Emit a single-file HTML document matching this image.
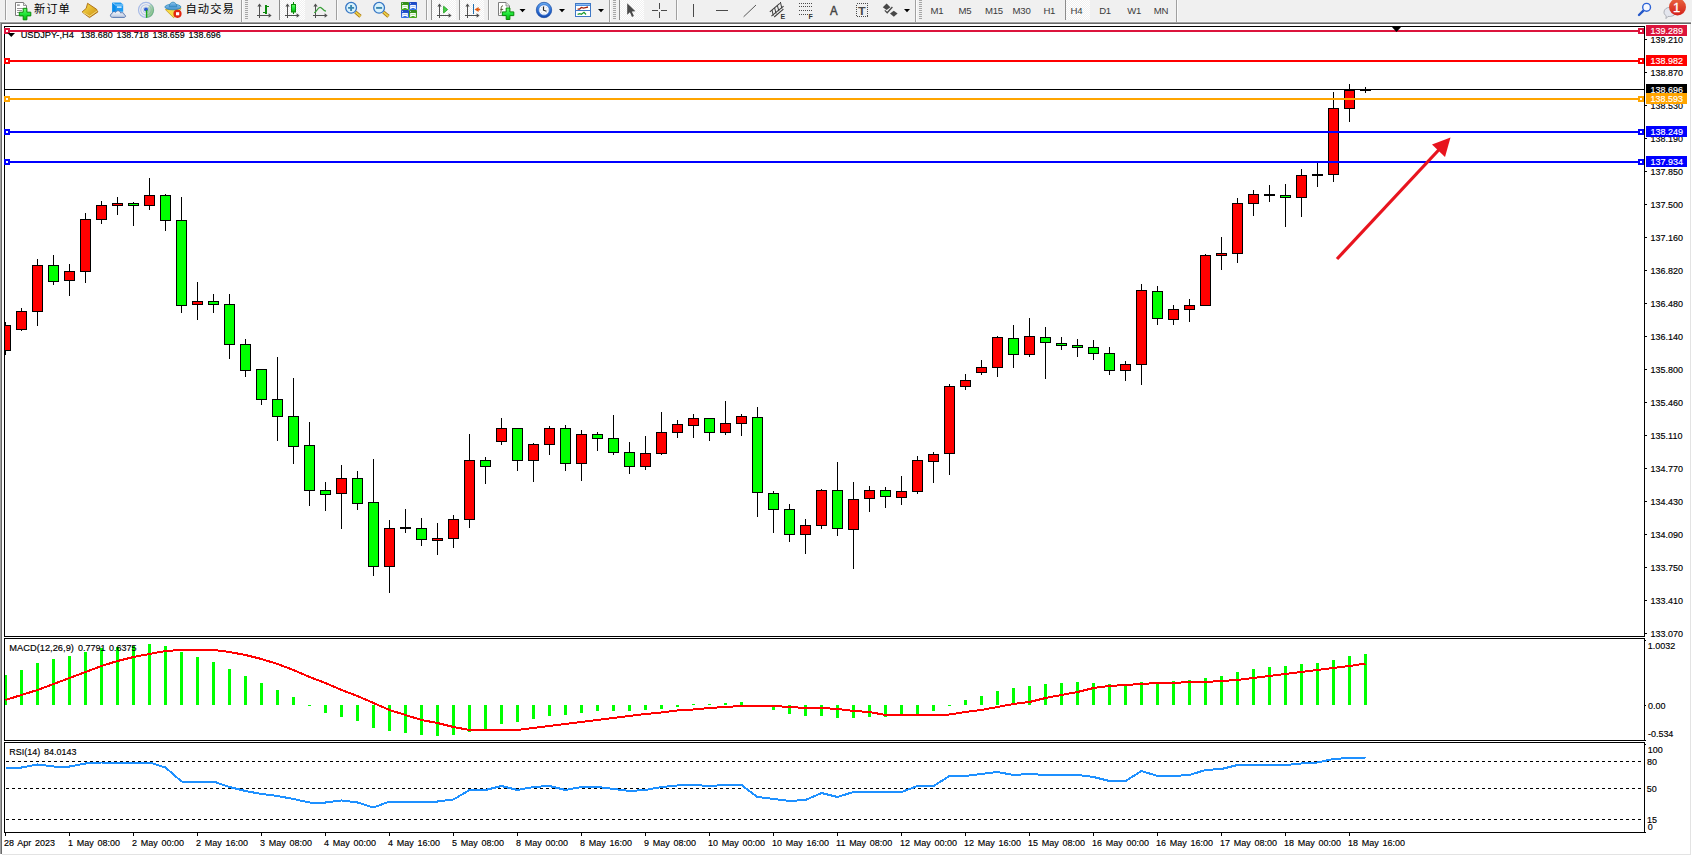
<!DOCTYPE html>
<html lang="zh"><head><meta charset="utf-8"><title>USDJPY-,H4</title>
<style>
html,body{margin:0;padding:0;background:#fff}
body{width:1692px;height:856px;overflow:hidden;position:relative}
svg{position:absolute;left:0;top:0;display:block}
text{font-family:"Liberation Sans","Noto Sans CJK SC",sans-serif;font-size:9.8px;word-spacing:1.32px;fill:#000;stroke:#000;stroke-width:0.16px}
.ce{shape-rendering:crispEdges}
.tf{stroke:none;fill:#3c3c3c;font-size:9.6px;letter-spacing:-0.25px}
.cj{font-size:11.3px;letter-spacing:1.05px;fill:#000;stroke:none}
.w{fill:#fff;stroke:#fff}
</style></head><body>
<svg width="1692" height="856" viewBox="0 0 1692 856">
<rect width="1692" height="856" fill="#fff"/>
<g class="ce"><rect x="0" y="0" width="1692" height="22" fill="#f0f0f0"/><rect x="0" y="21" width="1692" height="1" fill="#f6f6f6"/><rect x="0" y="22" width="1691" height="1" fill="#a0a0a0"/><rect x="1" y="23" width="1690" height="1" fill="#696969"/><rect x="0" y="22" width="1" height="832" fill="#a0a0a0"/><rect x="1" y="23" width="1" height="831" fill="#696969"/><rect x="1690" y="24" width="1" height="831" fill="#e3e3e3"/><rect x="2" y="854" width="1689" height="1" fill="#e3e3e3"/></g>
<defs><linearGradient id="gG" x1="0" y1="0" x2="0" y2="1"><stop offset="0" stop-color="#6bff6b"/><stop offset="0.5" stop-color="#1fe63a"/><stop offset="1" stop-color="#08b508"/></linearGradient><linearGradient id="gY" x1="0" y1="0" x2="1" y2="1"><stop offset="0" stop-color="#fbe14a"/><stop offset="1" stop-color="#c98a12"/></linearGradient><linearGradient id="gC" x1="0" y1="0" x2="0" y2="1"><stop offset="0" stop-color="#ffffff"/><stop offset="1" stop-color="#b9c6df"/></linearGradient><linearGradient id="gR" x1="0" y1="0" x2="0" y2="1"><stop offset="0" stop-color="#e9653f"/><stop offset="1" stop-color="#d3201a"/></linearGradient><linearGradient id="gB" x1="0" y1="0" x2="0" y2="1"><stop offset="0" stop-color="#8fc8ee"/><stop offset="1" stop-color="#3f8fd0"/></linearGradient><linearGradient id="gK" x1="0" y1="0" x2="0" y2="1"><stop offset="0" stop-color="#6fb2f4"/><stop offset="0.5" stop-color="#2a6fd6"/><stop offset="1" stop-color="#1348ae"/></linearGradient><radialGradient id="gZ" cx="0.4" cy="0.35" r="0.7"><stop offset="0" stop-color="#ffffff"/><stop offset="1" stop-color="#b7dcf5"/></radialGradient><linearGradient id="gS" x1="0" y1="0" x2="1" y2="1"><stop offset="0" stop-color="#9ad09a" stop-opacity="0.25"/><stop offset="1" stop-color="#3da33d" stop-opacity="0.8"/></linearGradient><pattern id="chk" width="2" height="2" patternUnits="userSpaceOnUse"><rect width="2" height="2" fill="#f0f0f0"/><rect width="1" height="1" fill="#fff"/><rect x="1" y="1" width="1" height="1" fill="#fff"/></pattern></defs>
<rect class="ce" x="5" y="0" width="1" height="20" fill="#a0a0a0"/><rect class="ce" x="6" y="0" width="1" height="20" fill="#fbfbfb"/><g><path d="M15.5 2.5h8l3 3v10h-11z" fill="#fff" stroke="#7d7d7d" stroke-width="1"/><path d="M23.5 2.5v3h3" fill="#e6e6e6" stroke="#7d7d7d" stroke-width="0.8"/><rect x="17" y="4.4" width="2.8" height="1.4" fill="#8a8a8a"/><path d="M17 8.5h6M17 10.5h5M17 12.5h3" stroke="#8c8c8c" stroke-width="0.9"/><path d="M23.2 8.3h3.7v3.9h3.9v3.7h-3.9v3.9h-3.7v-3.9h-3.9v-3.7h3.9z" fill="url(#gG)" stroke="#078a07" stroke-width="1"/></g>
<text class="cj" x="33.9" y="12.7">新订单</text>
<g><path d="M87.6 3.3l9 6 1.3 2.6-8.4 5.7-7.5-5.6 4.2-3.6z" fill="url(#gY)" stroke="#a8690f" stroke-width="0.9" stroke-linejoin="round"/><path d="M82.3 12.2l7.4 3.9 8-5.6" fill="none" stroke="#fff2a8" stroke-width="0.8" opacity="0.8"/></g>
<g><path d="M112.3 2.4h8.4l2.5 2v7.4h-10.9z" fill="#1f9bf2"/><path d="M112.3 2.4l3.3 2.6v7h-3.3z" fill="#0a8be8"/><path d="M112.3 2.4l3.3 2.6h7.6" fill="none" stroke="#cfeaff" stroke-width="0.7"/><rect x="117" y="6.4" width="4.6" height="1.4" fill="#e8f6ff"/><path d="M112.6 17.4c-2.6 0-3-3.3-0.6-3.8 0.2-2 2.6-2.6 3.6-1.2 1.2-2.4 4.6-2 5 0.6 1.7-0.9 3.6 0 3.7 1.8 1.9 0.4 1.6 2.6-0.3 2.6z" fill="url(#gC)" stroke="#4c6eaa" stroke-width="0.9"/></g>
<g fill="none"><circle cx="146" cy="9.9" r="7.5" stroke="#86a2e2" stroke-width="1.2" opacity="0.7"/><circle cx="146" cy="9.9" r="5.2" stroke="#93abe3" stroke-width="1.1" opacity="0.65"/><circle cx="146" cy="9.9" r="3" stroke="#9fb4e6" stroke-width="1" opacity="0.6"/><path d="M146.3 9.9L150.6 3.4A7.9 7.9 0 0 1 146.3 17.8z" fill="url(#gS)" stroke="none"/><circle cx="146" cy="9.6" r="2" fill="#2a5bd0"/><path d="M146.6 10v7.8" stroke="#1aa51a" stroke-width="1.4"/></g>
<g><path d="M165.4 9.6l15.6-1-7.3 9.2z" fill="#f7da45" stroke="#c49a1c" stroke-width="0.8" stroke-linejoin="round"/><ellipse cx="172.9" cy="7" rx="8" ry="2.8" fill="url(#gB)" stroke="#2f86b8" stroke-width="0.8"/><path d="M169.2 6.8c0.2-6.2 7.4-6.2 7.6 0z" fill="url(#gB)" stroke="#2f86b8" stroke-width="0.8"/><circle cx="177.5" cy="13.8" r="4.1" fill="#e2260f"/><rect x="176" y="12.2" width="3.2" height="3.1" fill="#fff"/></g>
<text class="cj" x="185.5" y="12.7">自动交易</text>
<rect class="ce" x="241" y="0" width="1" height="22" fill="#a0a0a0"/><rect class="ce" x="242" y="0" width="1" height="22" fill="#fbfbfb"/><path class="ce" fill="#a6a6a6" d="M245 0h3v1h-3zM245 2h3v1h-3zM245 4h3v1h-3zM245 6h3v1h-3zM245 8h3v1h-3zM245 10h3v1h-3zM245 12h3v1h-3zM245 14h3v1h-3zM245 16h3v1h-3zM245 18h3v1h-3z"/><g fill="#505050"><rect class="ce" x="259" y="5" width="1" height="13"/><rect class="ce" x="257" y="15" width="13" height="1"/><path d="M259.5 3.6l2.2 3h-4.4z"/><path d="M271.6 15.5l-3 -2.2v4.4z"/></g><path class="ce" fill="#0b8a0b" d="M265 5h2v9h-2zM267 6h2v1h-2zM263 12h2v1h-2z"/>
<rect class="ce" x="279" y="0" width="1" height="20" fill="#8c8c8c"/><rect class="ce" x="280" y="0" width="25" height="20" fill="url(#chk)"/><g fill="#505050"><rect class="ce" x="287" y="5" width="1" height="13"/><rect class="ce" x="285" y="15" width="13" height="1"/><path d="M287.5 3.6l2.2 3h-4.4z"/><path d="M299.6 15.5l-3 -2.2v4.4z"/></g><g><rect class="ce" x="293" y="2" width="1" height="12" fill="#0b8a0b"/><rect x="291.5" y="4.5" width="4" height="7.5" fill="url(#gG)" stroke="#0b8a0b" stroke-width="1"/></g>
<g fill="#505050"><rect class="ce" x="315" y="5" width="1" height="13"/><rect class="ce" x="313" y="15" width="13" height="1"/><path d="M315.5 3.6l2.2 3h-4.4z"/><path d="M327.6 15.5l-3 -2.2v4.4z"/></g><path d="M314.2 12.8c2.4-1 3.6-5.6 6-5.4 2 0.2 3 3.4 5.8 3.8" fill="none" stroke="#3aa03a" stroke-width="1.2"/>
<rect class="ce" x="336" y="0" width="1" height="20" fill="#a0a0a0"/><rect class="ce" x="337" y="0" width="1" height="20" fill="#fbfbfb"/><g><path d="M355.3 12l5.2 4.4" stroke="#a8740f" stroke-width="3.4" stroke-linecap="butt"/><path d="M355.5 12.1l4.9 4.2" stroke="#ecd048" stroke-width="1.9" stroke-linecap="butt"/><circle cx="351.1" cy="7.8" r="5.4" fill="#d9f2fc" stroke="#3676c4" stroke-width="1.3"/><path d="M348.1 7.9h6M351.1 4.9v6" stroke="#3a86ae" stroke-width="1.9"/></g>
<g><path d="M383.3 12l5.2 4.4" stroke="#a8740f" stroke-width="3.4" stroke-linecap="butt"/><path d="M383.5 12.1l4.9 4.2" stroke="#ecd048" stroke-width="1.9" stroke-linecap="butt"/><circle cx="379.1" cy="7.8" r="5.4" fill="#d9f2fc" stroke="#3676c4" stroke-width="1.3"/><path d="M376.1 7.9h6" stroke="#3a86ae" stroke-width="1.9"/></g>
<defs><linearGradient id="tG" x1="0" y1="0" x2="0" y2="1"><stop offset="0" stop-color="#2f8a16"/><stop offset="1" stop-color="#4cae22"/></linearGradient><linearGradient id="tB" x1="0" y1="0" x2="0" y2="1"><stop offset="0" stop-color="#1a44c0"/><stop offset="1" stop-color="#3a76ea"/></linearGradient></defs><g><rect x="401" y="2" width="8" height="8" rx="0.8" fill="url(#tG)"/><rect x="402" y="2.9" width="1" height="1" fill="#dfe8ff" opacity="0.8"/><path d="M402.2 5h5.6v4h-1.2v-1h-3.2v1h-1.2z" fill="#fff"/><rect x="403.2" y="5.9" width="3.6" height="0.9" fill="#a6dc8e"/><rect x="409" y="2" width="8" height="8" rx="0.8" fill="url(#tB)"/><rect x="410" y="2.9" width="1" height="1" fill="#dfe8ff" opacity="0.8"/><path d="M410.2 5h5.6v4h-1.2v-1h-3.2v1h-1.2z" fill="#fff"/><rect x="411.2" y="5.9" width="3.6" height="0.9" fill="#9db4f2"/><rect x="401" y="10" width="8" height="8" rx="0.8" fill="url(#tB)"/><rect x="402" y="10.9" width="1" height="1" fill="#dfe8ff" opacity="0.8"/><path d="M402.2 13h5.6v4h-1.2v-1h-3.2v1h-1.2z" fill="#fff"/><rect x="403.2" y="13.9" width="3.6" height="0.9" fill="#9db4f2"/><rect x="409" y="10" width="8" height="8" rx="0.8" fill="url(#tG)"/><rect x="410" y="10.9" width="1" height="1" fill="#dfe8ff" opacity="0.8"/><path d="M410.2 13h5.6v4h-1.2v-1h-3.2v1h-1.2z" fill="#fff"/><rect x="411.2" y="13.9" width="3.6" height="0.9" fill="#a6dc8e"/></g>
<rect class="ce" x="426" y="0" width="1" height="20" fill="#a0a0a0"/><rect class="ce" x="427" y="0" width="1" height="20" fill="#fbfbfb"/><rect class="ce" x="431" y="0" width="1" height="20" fill="#8c8c8c"/><rect class="ce" x="432" y="0" width="24" height="20" fill="url(#chk)"/><g fill="#505050"><rect class="ce" x="439" y="5" width="1" height="13"/><rect class="ce" x="437" y="15" width="13" height="1"/><path d="M439.5 3.6l2.2 3h-4.4z"/><path d="M451.6 15.5l-3 -2.2v4.4z"/></g><path d="M443.6 6.2l4 3.4-4 3.4z" fill="#49d049" stroke="#179a17" stroke-width="0.8"/>
<rect class="ce" x="459" y="0" width="1" height="20" fill="#8c8c8c"/><rect class="ce" x="460" y="0" width="24" height="20" fill="url(#chk)"/><g fill="#505050"><rect class="ce" x="467" y="5" width="1" height="13"/><rect class="ce" x="465" y="15" width="13" height="1"/><path d="M467.5 3.6l2.2 3h-4.4z"/><path d="M479.6 15.5l-3 -2.2v4.4z"/></g><g><rect class="ce" x="473" y="4" width="1" height="10" fill="#1f6fb0"/><path d="M474.6 9.5l4-2.6v1.9h1.6v1.4h-1.6v1.9z" fill="#e25a10"/></g>
<rect class="ce" x="488" y="0" width="1" height="20" fill="#a0a0a0"/><rect class="ce" x="489" y="0" width="1" height="20" fill="#fbfbfb"/><g><path d="M498.5 2.5h7.5l3.5 3.5v9.5h-11z" fill="#fff" stroke="#7d7d7d" stroke-width="1"/><path d="M506 2.5v3.5h3.5" fill="#e6e6e6" stroke="#7d7d7d" stroke-width="0.8"/><path d="M503 5.8c-1.8 0-1.8 1.4-1.8 2.8 0 1.8-0.2 3.8-1 4.8M500.4 9.4h2.8" fill="none" stroke="#4a4a28" stroke-width="0.9"/><path d="M506.2 8h3.7v3.9h3.9v3.7h-3.9v3.9h-3.7v-3.9h-3.9v-3.7h3.9z" fill="url(#gG)" stroke="#078a07" stroke-width="1"/></g>
<path d="M519.5 9h6l-3 3.2z" fill="#000"/><g><circle cx="544" cy="10" r="7.7" fill="url(#gK)" stroke="#1546a0" stroke-width="0.7"/><circle cx="544" cy="10" r="5.3" fill="#f6f8fc" stroke="#3c74d0" stroke-width="0.7"/><path d="M544 5.6v0.9M544 13.6v0.9M539.6 10h0.9M547.6 10h0.9M541 7l0.5 0.5M547 7l-0.5 0.5M541 13l0.5-0.5M547 13l-0.5-0.5" stroke="#9aa4b8" stroke-width="0.7"/><path d="M543.5 6.4v3.8l3 1.1" fill="none" stroke="#2a2a2a" stroke-width="1.2"/></g>
<path d="M559 9h6l-3 3.2z" fill="#000"/><g><rect x="575.5" y="3.5" width="15" height="13" fill="#fff" stroke="#3f78c6" stroke-width="1"/><rect class="ce" x="576" y="4" width="14" height="2" fill="#4f8fe0"/><rect class="ce" x="576" y="4" width="14" height="1" fill="#8fbdf2"/><rect class="ce" x="576" y="10" width="14" height="1" fill="#3f78c6"/><path d="M577.6 9.2l2-0.2 1.8-1.6 2 0.7 2.2-0.5 2.4-0.6" fill="none" stroke="#a0200c" stroke-width="1.3"/><path d="M577.6 14.3l2.2-0.6 1.6 0.6 2.6-2 2 2.2" fill="none" stroke="#1a9a2a" stroke-width="1.2"/></g>
<path d="M598 9h6l-3 3.2z" fill="#000"/><rect class="ce" x="609" y="0" width="1" height="22" fill="#a0a0a0"/><rect class="ce" x="610" y="0" width="1" height="22" fill="#fbfbfb"/><path class="ce" fill="#a6a6a6" d="M613 0h3v1h-3zM613 2h3v1h-3zM613 4h3v1h-3zM613 6h3v1h-3zM613 8h3v1h-3zM613 10h3v1h-3zM613 12h3v1h-3zM613 14h3v1h-3zM613 16h3v1h-3zM613 18h3v1h-3z"/><rect class="ce" x="619" y="0" width="1" height="20" fill="#8c8c8c"/><rect class="ce" x="620" y="0" width="24" height="20" fill="url(#chk)"/><path d="M627.2 3.2v11.6l2.7-2.5 2.1 4.6 1.9-0.9-2.1-4.5 3.6-0.3z" fill="#4a4a4a"/>
<g class="ce" fill="#4a4a4a"><rect x="659" y="3" width="1" height="6"/><rect x="659" y="12" width="1" height="6"/><rect x="652" y="10" width="6" height="1"/><rect x="661" y="10" width="6" height="1"/></g>
<rect class="ce" x="676" y="0" width="1" height="20" fill="#a0a0a0"/><rect class="ce" x="677" y="0" width="1" height="20" fill="#fbfbfb"/><rect class="ce" x="693" y="4" width="1" height="13" fill="#4a4a4a"/><rect class="ce" x="716" y="10" width="12" height="1" fill="#4a4a4a"/>
<path d="M743.6 16.8L756 5" stroke="#505050" stroke-width="0.95"/>
<g stroke="#3c3c3c" stroke-width="1.05" fill="none"><path d="M769.8 11.8l10-8.4M771.4 16.2l12.2-10M774.2 17l9.2-7.8"/><path d="M772 10l1.3 5.6M774.6 7.8l1.5 5.8M777.4 5.6l1.5 5.6M780.4 2l1.5 6.6" stroke-width="1"/></g><text x="780.6" y="18.8" style="font-size:7px;font-weight:bold;fill:#333;stroke:none">E</text>
<g class="ce" stroke="#4a4a4a" stroke-width="1" stroke-dasharray="1 1"><path d="M799 3.5h13M799 6.5h13M799 10.5h13M799 14.5h9"/></g><text x="808.6" y="18.8" style="font-size:7px;font-weight:bold;fill:#333;stroke:none">F</text>
<text transform="translate(829.9 15) scale(0.92 1)" style="font-size:12.4px;fill:#444;stroke:#444;stroke-width:0.45px">A</text>
<rect class="ce" x="856.5" y="3.5" width="11" height="13" fill="none" stroke="#4a4a4a" stroke-width="1" stroke-dasharray="1 1"/><text transform="translate(858.1 14.9) scale(1.12 1)" style="font-size:11.2px;font-weight:bold;fill:#4a4a4a;stroke:none">T</text>
<g fill="#484848"><path d="M886.6 3.6l3.8 3.6-3.8 2.8-3.8-2.8z"/><path d="M893.8 16.8l-3.8-3.4 3.8-2.6 3.8 2.6z"/><path d="M884.8 10.4l2.4 2.4 5.2-5.8" fill="none" stroke="#484848" stroke-width="1.3"/></g>
<path d="M904 9h6l-3 3.2z" fill="#000"/><rect class="ce" x="915" y="0" width="1" height="22" fill="#a0a0a0"/><rect class="ce" x="916" y="0" width="1" height="22" fill="#fbfbfb"/><path class="ce" fill="#a6a6a6" d="M919 0h3v1h-3zM919 2h3v1h-3zM919 4h3v1h-3zM919 6h3v1h-3zM919 8h3v1h-3zM919 10h3v1h-3zM919 12h3v1h-3zM919 14h3v1h-3zM919 16h3v1h-3zM919 18h3v1h-3z"/><text class="tf" x="930.6" y="13.5">M1</text><text class="tf" x="958.6" y="13.5">M5</text><text class="tf" x="985" y="13.5">M15</text><text class="tf" x="1012.6" y="13.5">M30</text><text class="tf" x="1043.4" y="13.5">H1</text><rect class="ce" x="1065" y="0" width="1" height="20" fill="#8c8c8c"/><rect class="ce" x="1066" y="0" width="24" height="20" fill="url(#chk)"/><text class="tf" x="1070.6" y="13.5">H4</text><text class="tf" x="1099.2" y="13.5">D1</text><text class="tf" x="1127.2" y="13.5">W1</text><text class="tf" x="1153.8" y="13.5">MN</text>
<rect class="ce" x="1176" y="0" width="1" height="22" fill="#a0a0a0"/><rect class="ce" x="1177" y="0" width="1" height="22" fill="#fbfbfb"/><g><path d="M1643.4 10.6l-4.4 4.4" stroke="#2457c8" stroke-width="2.4" stroke-linecap="round"/><circle cx="1646.6" cy="7.3" r="3.9" fill="#f6f8ff" stroke="#2c62d6" stroke-width="1.4"/></g>
<g><path d="M1664 12.2c0-6.4 11.6-6.4 11.6 0 0 3.6-4.6 4.6-7.6 4.2l-2 2.2 0.2-2.8c-1.4-0.8-2.2-2-2.2-3.6z" fill="#e4e6ee" stroke="#a6a8b0" stroke-width="0.9"/><circle cx="1677.5" cy="7" r="8.5" fill="url(#gR)"/><text x="1672.9" y="11.8" style="font-size:13px;fill:#fff;stroke:#fff;stroke-width:0.3px">1</text></g>

<g class="ce" fill="#000"><rect x="4" y="26" width="1641" height="1"/><rect x="4" y="26" width="1" height="807"/><rect x="1644" y="26" width="1" height="807"/><rect x="4" y="636" width="1641" height="1"/><rect x="4" y="638" width="1641" height="1"/><rect x="4" y="740" width="1641" height="1"/><rect x="4" y="742" width="1641" height="1"/><rect x="4" y="832" width="1642" height="1"/><rect x="5" y="637" width="1639" height="1" fill="#fff"/><rect x="5" y="741" width="1639" height="1" fill="#fff"/><rect x="4" y="637" width="1" height="1" fill="#fff"/><rect x="1644" y="637" width="1" height="1" fill="#fff"/><rect x="4" y="741" width="1" height="1" fill="#fff"/><rect x="1644" y="741" width="1" height="1" fill="#fff"/></g>
<defs><clipPath id="cm"><rect x="5" y="27" width="1639" height="609"/></clipPath><clipPath id="c2"><rect x="5" y="639" width="1639" height="101"/></clipPath><clipPath id="c3"><rect x="5" y="743" width="1639" height="89"/></clipPath></defs>
<g class="ce" clip-path="url(#cm)"><rect x="5" y="89" width="1639" height="1" fill="#000"/><path fill="#000" d="M5 322h1v33h-1zM0 325h11v26h-11zM21 308h1v23h-1zM16 311h11v19h-11zM37 259h1v67h-1zM32 265h11v47h-11zM53 255h1v30h-1zM48 265h11v17h-11zM69 264h1v32h-1zM64 271h11v10h-11zM85 213h1v70h-1zM80 219h11v53h-11zM101 201h1v23h-1zM96 205h11v15h-11zM117 197h1v18h-1zM112 203h11v3h-11zM133 202h1v24h-1zM128 203h11v3h-11zM149 178h1v32h-1zM144 195h11v11h-11zM165 194h1v37h-1zM160 195h11v26h-11zM181 197h1v116h-1zM176 220h11v86h-11zM197 282h1v38h-1zM192 301h11v4h-11zM213 294h1v19h-1zM208 301h11v4h-11zM229 294h1v65h-1zM224 304h11v41h-11zM245 339h1v38h-1zM240 344h11v27h-11zM261 369h1v36h-1zM256 369h11v31h-11zM277 357h1v84h-1zM272 399h11v18h-11zM293 378h1v86h-1zM288 416h11v31h-11zM309 422h1v84h-1zM304 445h11v46h-11zM325 482h1v29h-1zM320 490h11v5h-11zM341 465h1v64h-1zM336 478h11v16h-11zM357 471h1v39h-1zM352 478h11v26h-11zM373 459h1v117h-1zM368 502h11v65h-11zM389 520h1v73h-1zM384 528h11v39h-11zM405 509h1v24h-1zM400 527h11v2h-11zM421 518h1v28h-1zM416 528h11v12h-11zM437 523h1v32h-1zM432 538h11v3h-11zM453 515h1v33h-1zM448 519h11v20h-11zM469 434h1v94h-1zM464 460h11v60h-11zM485 457h1v27h-1zM480 460h11v7h-11zM501 418h1v27h-1zM496 428h11v14h-11zM517 428h1v43h-1zM512 428h11v33h-11zM533 443h1v39h-1zM528 444h11v17h-11zM549 426h1v29h-1zM544 428h11v17h-11zM565 425h1v46h-1zM560 428h11v36h-11zM581 430h1v51h-1zM576 434h11v30h-11zM597 432h1v19h-1zM592 434h11v5h-11zM613 415h1v40h-1zM608 438h11v15h-11zM629 442h1v32h-1zM624 452h11v15h-11zM645 436h1v34h-1zM640 453h11v14h-11zM661 412h1v43h-1zM656 432h11v22h-11zM677 420h1v18h-1zM672 424h11v9h-11zM693 414h1v24h-1zM688 418h11v8h-11zM709 418h1v23h-1zM704 418h11v15h-11zM725 401h1v34h-1zM720 423h11v10h-11zM741 414h1v22h-1zM736 416h11v8h-11zM757 407h1v110h-1zM752 417h11v76h-11zM773 491h1v42h-1zM768 493h11v17h-11zM789 504h1v38h-1zM784 509h11v26h-11zM805 519h1v35h-1zM800 525h11v10h-11zM821 489h1v40h-1zM816 490h11v36h-11zM837 462h1v74h-1zM832 490h11v39h-11zM853 482h1v87h-1zM848 499h11v31h-11zM869 486h1v26h-1zM864 490h11v9h-11zM885 487h1v21h-1zM880 490h11v7h-11zM901 476h1v29h-1zM896 491h11v7h-11zM917 456h1v38h-1zM912 460h11v32h-11zM933 452h1v31h-1zM928 454h11v8h-11zM949 384h1v91h-1zM944 386h11v68h-11zM965 374h1v16h-1zM960 380h11v7h-11zM981 360h1v15h-1zM976 367h11v6h-11zM997 336h1v41h-1zM992 337h11v31h-11zM1013 325h1v43h-1zM1008 338h11v17h-11zM1029 318h1v39h-1zM1024 336h11v19h-11zM1045 327h1v52h-1zM1040 337h11v6h-11zM1061 337h1v13h-1zM1056 343h11v3h-11zM1077 339h1v18h-1zM1072 345h11v3h-11zM1093 340h1v20h-1zM1088 347h11v7h-11zM1109 347h1v28h-1zM1104 353h11v18h-11zM1125 361h1v20h-1zM1120 364h11v7h-11zM1141 284h1v101h-1zM1136 290h11v75h-11zM1157 286h1v39h-1zM1152 291h11v28h-11zM1173 305h1v20h-1zM1168 309h11v11h-11zM1189 299h1v23h-1zM1184 305h11v5h-11zM1205 254h1v52h-1zM1200 255h11v51h-11zM1221 237h1v33h-1zM1216 253h11v3h-11zM1237 198h1v65h-1zM1232 203h11v51h-11zM1253 190h1v26h-1zM1248 194h11v10h-11zM1269 185h1v17h-1zM1264 194h11v2h-11zM1285 184h1v43h-1zM1280 195h11v3h-11zM1301 169h1v48h-1zM1296 175h11v23h-11zM1317 163h1v24h-1zM1312 174h11v2h-11zM1333 92h1v90h-1zM1328 108h11v67h-11zM1349 84h1v38h-1zM1344 90h11v19h-11zM1365 87h1v6h-1zM1360 90h11v1h-11z"/><path fill="#f00" d="M1 326h9v24h-9zM17 312h9v17h-9zM33 266h9v45h-9zM65 272h9v8h-9zM81 220h9v51h-9zM97 206h9v13h-9zM113 204h9v1h-9zM145 196h9v9h-9zM193 302h9v2h-9zM337 479h9v14h-9zM385 529h9v37h-9zM433 539h9v1h-9zM449 520h9v18h-9zM465 461h9v58h-9zM497 429h9v12h-9zM529 445h9v15h-9zM545 429h9v15h-9zM577 435h9v28h-9zM641 454h9v12h-9zM657 433h9v20h-9zM673 425h9v7h-9zM689 419h9v6h-9zM721 424h9v8h-9zM737 417h9v6h-9zM801 526h9v8h-9zM817 491h9v34h-9zM849 500h9v29h-9zM865 491h9v7h-9zM897 492h9v5h-9zM913 461h9v30h-9zM929 455h9v6h-9zM945 387h9v66h-9zM961 381h9v5h-9zM977 368h9v4h-9zM993 338h9v29h-9zM1025 337h9v17h-9zM1121 365h9v5h-9zM1137 291h9v73h-9zM1169 310h9v9h-9zM1185 306h9v3h-9zM1201 256h9v49h-9zM1217 254h9v1h-9zM1233 204h9v49h-9zM1249 195h9v8h-9zM1297 176h9v21h-9zM1329 109h9v65h-9zM1345 91h9v17h-9z"/><path fill="#0f0" d="M49 266h9v15h-9zM129 204h9v1h-9zM161 196h9v24h-9zM177 221h9v84h-9zM209 302h9v2h-9zM225 305h9v39h-9zM241 345h9v25h-9zM257 370h9v29h-9zM273 400h9v16h-9zM289 417h9v29h-9zM305 446h9v44h-9zM321 491h9v3h-9zM353 479h9v24h-9zM369 503h9v63h-9zM417 529h9v10h-9zM481 461h9v5h-9zM513 429h9v31h-9zM561 429h9v34h-9zM593 435h9v3h-9zM609 439h9v13h-9zM625 453h9v13h-9zM705 419h9v13h-9zM753 418h9v74h-9zM769 494h9v15h-9zM785 510h9v24h-9zM833 491h9v37h-9zM881 491h9v5h-9zM1009 339h9v15h-9zM1041 338h9v4h-9zM1057 344h9v1h-9zM1073 346h9v1h-9zM1089 348h9v5h-9zM1105 354h9v16h-9zM1153 292h9v26h-9zM1281 196h9v1h-9z"/></g>
<text transform="translate(20.7 38) scale(0.945 1)">USDJPY-,H4</text><text transform="translate(80.4 38) scale(0.914 1)">138.680 138.718 138.659 138.696</text>
<g class="ce"><rect x="5" y="30" width="1639" height="2" fill="#dc143c"/><rect x="4" y="28" width="6" height="6" fill="#dc143c"/><rect x="6" y="30" width="2" height="2" fill="#fff"/><rect x="1638" y="28" width="6" height="6" fill="#dc143c"/><rect x="1640" y="30" width="2" height="2" fill="#fff"/><rect x="5" y="60" width="1639" height="2" fill="#f00"/><rect x="4" y="58" width="6" height="6" fill="#f00"/><rect x="6" y="60" width="2" height="2" fill="#fff"/><rect x="1638" y="58" width="6" height="6" fill="#f00"/><rect x="1640" y="60" width="2" height="2" fill="#fff"/><rect x="5" y="98" width="1639" height="2" fill="#ffa500"/><rect x="4" y="96" width="6" height="6" fill="#ffa500"/><rect x="6" y="98" width="2" height="2" fill="#fff"/><rect x="1638" y="96" width="6" height="6" fill="#ffa500"/><rect x="1640" y="98" width="2" height="2" fill="#fff"/><rect x="5" y="131" width="1639" height="2" fill="#00f"/><rect x="4" y="129" width="6" height="6" fill="#00f"/><rect x="6" y="131" width="2" height="2" fill="#fff"/><rect x="1638" y="129" width="6" height="6" fill="#00f"/><rect x="1640" y="131" width="2" height="2" fill="#fff"/><rect x="5" y="161" width="1639" height="2" fill="#00f"/><rect x="4" y="159" width="6" height="6" fill="#00f"/><rect x="6" y="161" width="2" height="2" fill="#fff"/><rect x="1638" y="159" width="6" height="6" fill="#00f"/><rect x="1640" y="161" width="2" height="2" fill="#fff"/></g>
<g><line x1="1337" y1="259" x2="1441" y2="147.5" stroke="#e8141e" stroke-width="3.2"/><polygon points="1450.5,137.5 1432,144.5 1445,157" fill="#e8141e"/></g>
<polygon points="1391.5,26.5 1401.5,26.5 1396.5,32" fill="#000"/>
<polygon points="7.5,33 15,33 11.25,37" fill="#000"/>
<g class="ce" clip-path="url(#c2)"><path fill="#0f0" d="M4 675h3v30h-3zM20 670h3v35h-3zM36 663h3v42h-3zM52 659h3v46h-3zM68 656h3v49h-3zM84 652h3v53h-3zM100 648h3v57h-3zM116 647h3v58h-3zM132 646h3v59h-3zM148 644h3v61h-3zM164 646h3v59h-3zM180 652h3v53h-3zM196 657h3v48h-3zM212 662h3v43h-3zM228 669h3v36h-3zM244 676h3v29h-3zM260 683h3v22h-3zM276 690h3v15h-3zM292 697h3v8h-3zM692 704h3v1h-3zM708 704h3v1h-3zM724 703h3v2h-3zM740 702h3v3h-3zM964 700h3v5h-3zM980 696h3v9h-3zM996 691h3v14h-3zM1012 688h3v17h-3zM1028 686h3v19h-3zM1044 684h3v21h-3zM1060 683h3v22h-3zM1076 682h3v23h-3zM1092 683h3v22h-3zM1108 684h3v21h-3zM1124 685h3v20h-3zM1140 682h3v23h-3zM1156 682h3v23h-3zM1172 681h3v24h-3zM1188 680h3v25h-3zM1204 678h3v27h-3zM1220 676h3v29h-3zM1236 672h3v33h-3zM1252 669h3v36h-3zM1268 667h3v38h-3zM1284 666h3v39h-3zM1300 664h3v41h-3zM1316 663h3v42h-3zM1332 660h3v45h-3zM1348 656h3v49h-3zM1364 654h3v51h-3zM308 705h3v1h-3zM324 705h3v8h-3zM340 705h3v12h-3zM356 705h3v16h-3zM372 705h3v23h-3zM388 705h3v26h-3zM404 705h3v28h-3zM420 705h3v30h-3zM436 705h3v31h-3zM452 705h3v30h-3zM468 705h3v27h-3zM484 705h3v24h-3zM500 705h3v19h-3zM516 705h3v17h-3zM532 705h3v14h-3zM548 705h3v11h-3zM564 705h3v10h-3zM580 705h3v8h-3zM596 705h3v6h-3zM612 705h3v6h-3zM628 705h3v6h-3zM644 705h3v5h-3zM660 705h3v4h-3zM676 705h3v2h-3zM772 705h3v5h-3zM788 705h3v9h-3zM804 705h3v11h-3zM820 705h3v11h-3zM836 705h3v13h-3zM852 705h3v13h-3zM868 705h3v12h-3zM884 705h3v12h-3zM900 705h3v9h-3zM916 705h3v9h-3zM932 705h3v6h-3zM948 705h3v1h-3z"/></g>
<polyline clip-path="url(#c2)" points="5.5,700.00 21.5,695.00 37.5,690.00 53.5,684.00 69.5,678.00 85.5,672.00 101.5,666.00 117.5,661.00 133.5,657.00 149.5,654.00 165.5,651.00 181.5,650.00 197.5,650.00 213.5,650.00 229.5,652.00 245.5,655.00 261.5,659.00 277.5,664.00 293.5,670.00 309.5,677.00 325.5,683.00 341.5,690.00 357.5,696.00 373.5,703.00 389.5,710.00 405.5,715.00 421.5,720.00 437.5,723.00 453.5,727.00 469.5,730.00 485.5,730.00 501.5,730.00 517.5,730.00 533.5,728.00 549.5,726.00 565.5,724.00 581.5,722.00 597.5,720.00 613.5,718.00 629.5,716.00 645.5,714.00 661.5,712.50 677.5,710.50 693.5,709.50 709.5,708.00 725.5,707.00 741.5,706.00 757.5,706.00 773.5,706.00 789.5,707.00 805.5,708.00 821.5,708.00 837.5,709.00 853.5,711.00 869.5,712.00 885.5,715.00 901.5,715.00 917.5,715.00 933.5,715.00 949.5,714.50 965.5,712.00 981.5,710.00 997.5,707.00 1013.5,704.00 1029.5,702.00 1045.5,698.00 1061.5,695.00 1077.5,692.00 1093.5,688.00 1109.5,686.00 1125.5,685.00 1141.5,684.00 1157.5,683.00 1173.5,683.00 1189.5,682.00 1205.5,682.00 1221.5,681.00 1237.5,680.00 1253.5,678.00 1269.5,676.00 1285.5,674.00 1301.5,672.00 1317.5,670.00 1333.5,668.00 1349.5,666.00 1365.5,663.50" fill="none" stroke="#f00" stroke-width="2" stroke-linejoin="round" shape-rendering="crispEdges"/>
<g class="ce"><line x1="6" y1="761.5" x2="1644" y2="761.5" stroke="#000" stroke-width="1" stroke-dasharray="3 3"/><line x1="6" y1="788.5" x2="1644" y2="788.5" stroke="#000" stroke-width="1" stroke-dasharray="3 3"/><line x1="6" y1="819.5" x2="1644" y2="819.5" stroke="#000" stroke-width="1" stroke-dasharray="3 3"/></g>
<polyline clip-path="url(#c3)" points="5.5,767.50 21.5,767.50 37.5,764.50 53.5,766.50 69.5,766.50 85.5,763.50 101.5,762.50 117.5,762.50 133.5,762.50 149.5,762.50 165.5,767.50 181.5,781.50 197.5,781.50 213.5,781.50 229.5,787.00 245.5,791.00 261.5,794.00 277.5,796.00 293.5,799.00 309.5,802.50 325.5,802.50 341.5,800.50 357.5,802.50 373.5,807.50 389.5,801.50 405.5,801.50 421.5,801.50 437.5,801.50 453.5,799.50 469.5,790.00 485.5,790.00 501.5,786.00 517.5,790.00 533.5,787.00 549.5,786.00 565.5,790.00 581.5,787.00 597.5,787.00 613.5,789.00 629.5,791.00 645.5,790.00 661.5,787.00 677.5,785.50 693.5,785.00 709.5,786.00 725.5,785.00 741.5,785.00 757.5,797.00 773.5,799.00 789.5,801.00 805.5,800.00 821.5,793.00 837.5,797.00 853.5,792.00 869.5,792.00 885.5,792.00 901.5,792.00 917.5,786.00 933.5,786.00 949.5,776.00 965.5,776.00 981.5,774.00 997.5,772.00 1013.5,775.00 1029.5,774.00 1045.5,775.00 1061.5,775.00 1077.5,775.00 1093.5,777.00 1109.5,781.00 1125.5,781.00 1141.5,771.00 1157.5,776.00 1173.5,776.00 1189.5,775.00 1205.5,770.00 1221.5,769.00 1237.5,765.00 1253.5,765.00 1269.5,765.00 1285.5,765.00 1301.5,763.50 1317.5,762.50 1333.5,759.00 1349.5,758.00 1365.5,757.50" fill="none" stroke="#1e90ff" stroke-width="2" stroke-linejoin="round" shape-rendering="crispEdges"/>
<g class="ce" fill="#000"><rect x="1645" y="39" width="2" height="1"/><rect x="1645" y="72" width="2" height="1"/><rect x="1645" y="105" width="2" height="1"/><rect x="1645" y="138" width="2" height="1"/><rect x="1645" y="171" width="2" height="1"/><rect x="1645" y="204" width="2" height="1"/><rect x="1645" y="237" width="2" height="1"/><rect x="1645" y="270" width="2" height="1"/><rect x="1645" y="303" width="2" height="1"/><rect x="1645" y="336" width="2" height="1"/><rect x="1645" y="369" width="2" height="1"/><rect x="1645" y="402" width="2" height="1"/><rect x="1645" y="435" width="2" height="1"/><rect x="1645" y="468" width="2" height="1"/><rect x="1645" y="501" width="2" height="1"/><rect x="1645" y="534" width="2" height="1"/><rect x="1645" y="567" width="2" height="1"/><rect x="1645" y="600" width="2" height="1"/><rect x="1645" y="633" width="2" height="1"/><rect x="1645" y="705" width="1" height="1"/><rect x="1645" y="640" width="1" height="1"/><rect x="1645" y="740" width="1" height="1"/><rect x="1645" y="744" width="1" height="1"/><rect x="5" y="833" width="1" height="3"/><rect x="69" y="833" width="1" height="3"/><rect x="133" y="833" width="1" height="3"/><rect x="197" y="833" width="1" height="3"/><rect x="261" y="833" width="1" height="3"/><rect x="325" y="833" width="1" height="3"/><rect x="389" y="833" width="1" height="3"/><rect x="453" y="833" width="1" height="3"/><rect x="517" y="833" width="1" height="3"/><rect x="581" y="833" width="1" height="3"/><rect x="645" y="833" width="1" height="3"/><rect x="709" y="833" width="1" height="3"/><rect x="773" y="833" width="1" height="3"/><rect x="837" y="833" width="1" height="3"/><rect x="901" y="833" width="1" height="3"/><rect x="965" y="833" width="1" height="3"/><rect x="1029" y="833" width="1" height="3"/><rect x="1093" y="833" width="1" height="3"/><rect x="1157" y="833" width="1" height="3"/><rect x="1221" y="833" width="1" height="3"/><rect x="1285" y="833" width="1" height="3"/><rect x="1349" y="833" width="1" height="3"/></g>
<g><text transform="translate(1650.6 43) scale(0.918 1)">139.210</text><text transform="translate(1650.6 76) scale(0.918 1)">138.870</text><text transform="translate(1650.6 109) scale(0.918 1)">138.530</text><text transform="translate(1650.6 142) scale(0.918 1)">138.190</text><text transform="translate(1650.6 175) scale(0.918 1)">137.850</text><text transform="translate(1650.6 208) scale(0.918 1)">137.500</text><text transform="translate(1650.6 241) scale(0.918 1)">137.160</text><text transform="translate(1650.6 274) scale(0.918 1)">136.820</text><text transform="translate(1650.6 307) scale(0.918 1)">136.480</text><text transform="translate(1650.6 340) scale(0.918 1)">136.140</text><text transform="translate(1650.6 373) scale(0.918 1)">135.800</text><text transform="translate(1650.6 406) scale(0.918 1)">135.460</text><text transform="translate(1650.6 439) scale(0.918 1)">135.110</text><text transform="translate(1650.6 472) scale(0.918 1)">134.770</text><text transform="translate(1650.6 505) scale(0.918 1)">134.430</text><text transform="translate(1650.6 538) scale(0.918 1)">134.090</text><text transform="translate(1650.6 571) scale(0.918 1)">133.750</text><text transform="translate(1650.6 604) scale(0.918 1)">133.410</text><text transform="translate(1650.6 637) scale(0.918 1)">133.070</text></g>
<g class="ce"><rect x="1646" y="84" width="41" height="11" fill="#000"/></g><text class="w" transform="translate(1650.6 93) scale(0.918 1)">138.696</text><g class="ce"><rect x="1646" y="25" width="41" height="11" fill="#dc143c"/><rect x="1646" y="55" width="41" height="11" fill="#f00"/><rect x="1646" y="93" width="41" height="11" fill="#ffa500"/><rect x="1646" y="126" width="41" height="11" fill="#00f"/><rect x="1646" y="156" width="41" height="11" fill="#00f"/></g>
<g><text class="w" transform="translate(1650.6 34) scale(0.918 1)">139.289</text><text class="w" transform="translate(1650.6 64) scale(0.918 1)">138.982</text><text class="w" transform="translate(1650.6 102) scale(0.918 1)">138.593</text><text class="w" transform="translate(1650.6 135) scale(0.918 1)">138.249</text><text class="w" transform="translate(1650.6 165) scale(0.918 1)">137.934</text></g>
<g><text transform="translate(1647.7 649) scale(0.918 1)">1.0032</text><text transform="translate(1648.0 709) scale(0.918 1)">0.00</text><text transform="translate(1647.9 737) scale(0.918 1)">-0.534</text><text transform="translate(1647.7 753) scale(0.918 1)">100</text><text transform="translate(1646.9 765) scale(0.918 1)">80</text><text transform="translate(1646.8 792) scale(0.918 1)">50</text><text transform="translate(1646.9 823) scale(0.918 1)">15</text><text transform="translate(1647.8 830) scale(0.918 1)">0</text></g>
<g><text transform="translate(4.1 846) scale(0.918 1)">28 Apr 2023</text><text transform="translate(68.1 846) scale(0.918 1)">1 May 08:00</text><text transform="translate(132.1 846) scale(0.918 1)">2 May 00:00</text><text transform="translate(196.1 846) scale(0.918 1)">2 May 16:00</text><text transform="translate(260.1 846) scale(0.918 1)">3 May 08:00</text><text transform="translate(324.1 846) scale(0.918 1)">4 May 00:00</text><text transform="translate(388.1 846) scale(0.918 1)">4 May 16:00</text><text transform="translate(452.1 846) scale(0.918 1)">5 May 08:00</text><text transform="translate(516.1 846) scale(0.918 1)">8 May 00:00</text><text transform="translate(580.1 846) scale(0.918 1)">8 May 16:00</text><text transform="translate(644.1 846) scale(0.918 1)">9 May 08:00</text><text transform="translate(708.1 846) scale(0.918 1)">10 May 00:00</text><text transform="translate(772.1 846) scale(0.918 1)">10 May 16:00</text><text transform="translate(836.1 846) scale(0.918 1)">11 May 08:00</text><text transform="translate(900.1 846) scale(0.918 1)">12 May 00:00</text><text transform="translate(964.1 846) scale(0.918 1)">12 May 16:00</text><text transform="translate(1028.1 846) scale(0.918 1)">15 May 08:00</text><text transform="translate(1092.1 846) scale(0.918 1)">16 May 00:00</text><text transform="translate(1156.1 846) scale(0.918 1)">16 May 16:00</text><text transform="translate(1220.1 846) scale(0.918 1)">17 May 08:00</text><text transform="translate(1284.1 846) scale(0.918 1)">18 May 00:00</text><text transform="translate(1348.1 846) scale(0.918 1)">18 May 16:00</text></g>
<text transform="translate(9.3 651) scale(0.95 1)">MACD(12,26,9)</text><text transform="translate(78 651) scale(0.918 1)">0.7791</text><text transform="translate(109 651) scale(0.918 1)">0.6375</text>
<text transform="translate(9.3 755) scale(0.918 1)">RSI(14) 84.0143</text>
</svg>
</body></html>
